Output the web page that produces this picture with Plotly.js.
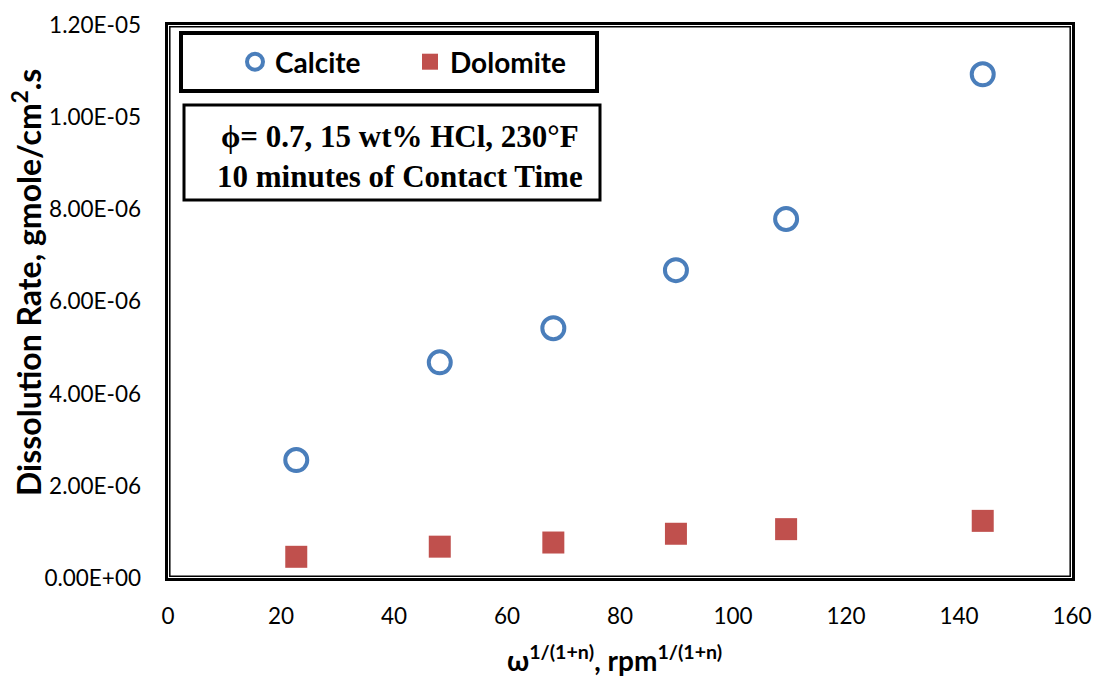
<!DOCTYPE html>
<html>
<head>
<meta charset="utf-8">
<script src="https://cdn.plot.ly/plotly-3.0.1.min.js"></script>
<style>
  html, body { margin: 0; padding: 0; background: #fff; }
  #chart { width: 1097px; height: 676px; }
</style>
</head>
<body>
<div id="chart"></div>
<script>
// Rotating-disk dissolution rates vs. shear parameter
const omega = [22.7, 48.1, 68.2, 89.9, 109.4, 144.2];
const calciteRate = [2.56e-6, 4.68e-6, 5.42e-6, 6.68e-6, 7.79e-6, 1.093e-5];
const dolomiteRate = [4.6e-7, 6.8e-7, 7.7e-7, 9.6e-7, 1.06e-6, 1.24e-6];

const xTickVals = [0, 20, 40, 60, 80, 100, 120, 140, 160];
const yTickVals = [0, 2e-6, 4e-6, 6e-6, 8e-6, 1e-5, 1.2e-5];
const yTickText = ['0.00E+00', '2.00E-06', '4.00E-06', '6.00E-06', '8.00E-06', '1.00E-05', '1.20E-05'];

const W = 1097, H = 676;
const M = { l: 168, r: 25, t: 25, b: 98 };
const pw = W - M.l - M.r, ph = H - M.t - M.b;
const px = v => v / pw, py = v => v / ph;   // pixel -> paper fraction

const tickFont = { family: 'Lato, sans-serif', size: 22.5, color: '#000' };

const traces = [
  {
    type: 'scatter', mode: 'markers', name: 'Calcite',
    x: omega, y: calciteRate,
    marker: { symbol: 'circle-open', size: 22, color: '#4A7EBB', line: { width: 4, color: '#4A7EBB' } }
  },
  {
    type: 'scatter', mode: 'markers', name: 'Dolomite',
    x: omega, y: dolomiteRate,
    marker: { symbol: 'square', size: 22, color: '#C0504D', line: { width: 0 } }
  }
];

const layout = {
  width: W, height: H,
  margin: M,
  paper_bgcolor: '#fff', plot_bgcolor: '#fff',
  showlegend: true,
  legend: {
    orientation: 'h',
    x: px(235 - M.l), xanchor: 'left',
    y: 1 - py(62 - M.t), yanchor: 'middle',
    bgcolor: 'rgba(0,0,0,0)', borderwidth: 0,
    font: { family: 'Lato, sans-serif', size: 28, color: '#000', weight: 'bold' },
    entrywidth: 130, entrywidthmode: 'pixels',
    itemsizing: 'trace'
  },
  xaxis: {
    range: [0, 160], tickvals: xTickVals,
    showgrid: false, zeroline: false, showline: false,
    ticks: '', tickfont: tickFont, ticklabelstandoff: 22,
    fixedrange: true
  },
  yaxis: {
    range: [0, 1.2e-5], tickvals: yTickVals, ticktext: yTickText,
    showgrid: false, zeroline: false, showline: false,
    ticks: '', tickfont: tickFont, ticklabelstandoff: 26,
    fixedrange: true
  },
  shapes: [
    // double frame around the plot area
    { type: 'rect', xref: 'paper', yref: 'paper',
      x0: -px(1.5), x1: 1 + px(1.5), y0: -py(1.5), y1: 1 + py(1.5),
      line: { color: '#000', width: 3 }, layer: 'above' },
    { type: 'rect', xref: 'paper', yref: 'paper',
      x0: px(1.8), x1: 1 - px(1.8), y0: py(1.8), y1: 1 - py(1.8),
      line: { color: '#000', width: 1.5 }, layer: 'above' },
    // legend box
    { type: 'rect', xref: 'paper', yref: 'paper',
      x0: px(181 - M.l), x1: px(597 - M.l), y0: 1 - py(91 - M.t), y1: 1 - py(33 - M.t),
      line: { color: '#000', width: 4 }, fillcolor: 'rgba(0,0,0,0)', layer: 'below' },
    // conditions box
    { type: 'rect', xref: 'paper', yref: 'paper',
      x0: px(184 - M.l), x1: px(600 - M.l), y0: 1 - py(200 - M.t), y1: 1 - py(105 - M.t),
      line: { color: '#000', width: 3 }, fillcolor: 'rgba(0,0,0,0)', layer: 'below' }
  ],
  annotations: [
    { xref: 'paper', yref: 'paper', x: px(400 - M.l), y: 1 - py(156 - M.t),
      xanchor: 'center', yanchor: 'middle', showarrow: false, align: 'center',
      text: 'ϕ= 0.7, 15 wt% HCl, 230°F<br>10 minutes of Contact Time',
      font: { family: '"Liberation Serif", "Times New Roman", serif', size: 31, color: '#000', weight: 'bold' } },
    { xref: 'paper', yref: 'paper', x: px(27 - M.l), y: 1 - py(283 - M.t),
      xanchor: 'center', yanchor: 'middle', showarrow: false, textangle: -90,
      text: 'Dissolution Rate, gmole/cm<sup>2</sup>.s',
      font: { family: 'Lato, sans-serif', size: 32, color: '#000', weight: 'bold' } },
    { xref: 'paper', yref: 'paper', x: px(614 - M.l), y: -py(658 - (H - M.b)),
      xanchor: 'center', yanchor: 'middle', showarrow: false,
      text: 'ω<sup>1/(1+n)</sup>, rpm<sup>1/(1+n)</sup>',
      font: { family: 'Lato, sans-serif', size: 28, color: '#000', weight: 'bold' } }
  ]
};

Plotly.newPlot('chart', traces, layout, { displayModeBar: false, staticPlot: true });
</script>
</body>
</html>
